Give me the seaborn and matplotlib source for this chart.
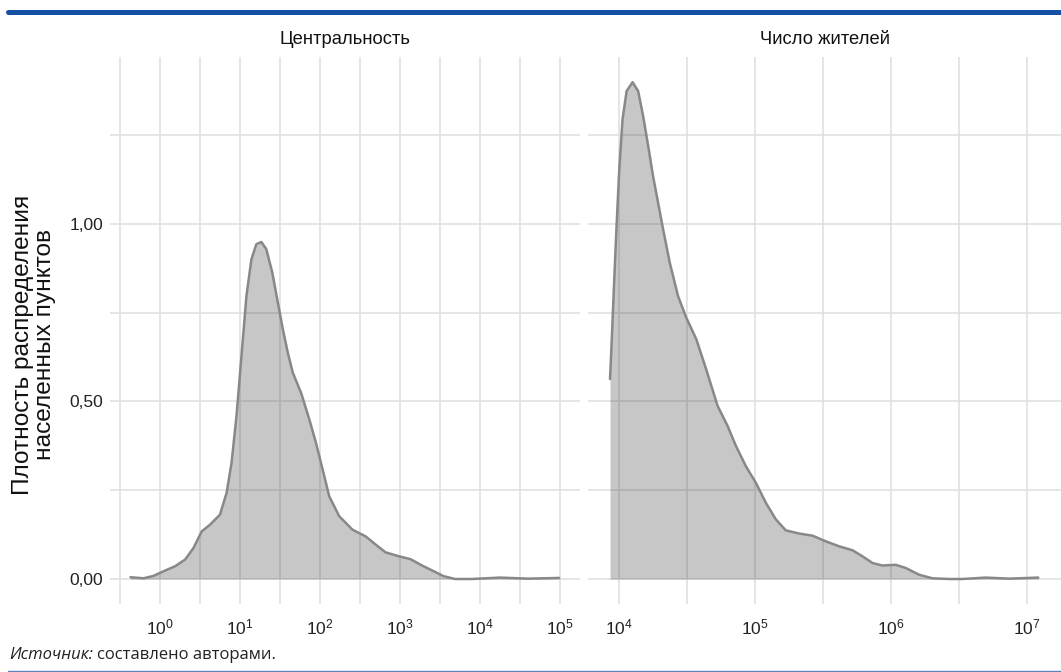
import numpy as np
import pandas as pd
import seaborn as sns
import matplotlib.pyplot as plt
from matplotlib.ticker import FixedLocator

# density curves: x is log10 of the value
cent_log = [-0.364, -0.199, -0.074, 0.05, 0.194, 0.319, 0.422, 0.525, 0.629, 0.753,
            0.836, 0.898, 0.96, 1.022, 1.084, 1.146, 1.208, 1.27, 1.332, 1.407,
            1.477, 1.539, 1.601, 1.663, 1.767, 1.87, 1.953, 2.036, 2.118, 2.242,
            2.408, 2.573, 2.698, 2.822, 2.987, 3.132, 3.277, 3.422, 3.546, 3.69,
            3.9, 4.25, 4.6, 4.99]
cent_dens = [0.005, 0.002, 0.009, 0.022, 0.036, 0.055, 0.087, 0.134, 0.153, 0.181,
             0.242, 0.327, 0.459, 0.628, 0.797, 0.90, 0.943, 0.949, 0.929, 0.863,
             0.778, 0.703, 0.637, 0.581, 0.524, 0.449, 0.383, 0.308, 0.233, 0.177,
             0.139, 0.12, 0.097, 0.075, 0.064, 0.056, 0.038, 0.022, 0.008, 0.0,
             0.0, 0.004, 0.001, 0.003]

pop_log = [3.932, 3.944, 3.961, 3.980, 4.0, 4.024, 4.054, 4.098, 4.139, 4.176,
           4.213, 4.249, 4.286, 4.323, 4.372, 4.433, 4.494, 4.567, 4.64, 4.723,
           4.797, 4.858, 4.931, 5.005, 5.078, 5.152, 5.225, 5.324, 5.422, 5.52,
           5.618, 5.716, 5.789, 5.863, 5.936, 6.034, 6.108, 6.206, 6.304, 6.426,
           6.525, 6.696, 6.868, 7.083]
pop_dens = [0.563, 0.665, 0.824, 0.993, 1.153, 1.294, 1.374, 1.399, 1.374, 1.303,
            1.219, 1.134, 1.059, 0.984, 0.89, 0.796, 0.735, 0.675, 0.59, 0.488,
            0.431, 0.375, 0.318, 0.271, 0.215, 0.168, 0.137, 0.128, 0.122, 0.106,
            0.092, 0.081, 0.064, 0.045, 0.038, 0.04, 0.031, 0.012, 0.002, 0.0,
            0.0, 0.004, 0.001, 0.004]

panel_titles = ["Центральность", "Число жителей"]
x_decades = [[0, 1, 2, 3, 4, 5], [4, 5, 6, 7]]
x_limits = [(-0.62, 5.25), (3.77, 7.25)]
y_ticks = [0, 0.5, 1.0]
y_labels = ["0,00", "0,50", "1,00"]

sns.set_theme(style="white")
plt.rcParams["font.family"] = ["Liberation Sans", "DejaVu Sans"]
plt.rcParams["mathtext.default"] = "regular"

fig = plt.figure(figsize=(10.61, 6.72), dpi=100)
ax1 = fig.add_axes([110 / 1061, 68 / 672, 470 / 1061, 547 / 672])
ax2 = fig.add_axes([588 / 1061, 68 / 672, 473 / 1061, 547 / 672])

grid_col = "#e0e0e0"
curves = [(cent_log, cent_dens), (pop_log, pop_dens)]

for i, ax in enumerate([ax1, ax2]):
    lg, dens = curves[i]
    df = pd.DataFrame({"x": 10 ** np.array(lg), "dens": dens})
    ax.fill_between(df["x"], df["dens"], 0, color="#333333", alpha=0.27,
                    lw=0, zorder=2)
    sns.lineplot(data=df, x="x", y="dens", ax=ax, color="#888888", lw=1.8,
                 sort=False, estimator=None, zorder=3)
    ax.lines[-1].set_solid_joinstyle("round")
    ax.set_xscale("log")
    lo, hi = x_limits[i]
    ax.set_xlim(10 ** lo, 10 ** hi)
    ax.set_ylim(-0.0704, 1.47)

    dec = x_decades[i]
    ax.xaxis.set_major_locator(FixedLocator([10.0 ** k for k in dec]))
    ax.set_xticklabels([f"$10^{{{k}}}$" for k in dec])
    minors = [10 ** (k + 0.5) for k in range(-1, 8) if lo < k + 0.5 < hi]
    ax.xaxis.set_minor_locator(FixedLocator(minors))
    ax.yaxis.set_major_locator(FixedLocator(y_ticks))
    ax.yaxis.set_minor_locator(FixedLocator([0.25, 0.75, 1.25]))
    ax.set_yticklabels(y_labels)

    ax.grid(True, which="both", color=grid_col, lw=1.2, zorder=0)
    ax.set_axisbelow(True)
    for s in ax.spines.values():
        s.set_visible(False)
    ax.tick_params(which="both", length=0, labelsize=12.5, colors="#222222")
    ax.tick_params(axis="x", pad=10)
    ax.tick_params(axis="y", pad=5)
    ax.set_xlabel("")
    ax.set_ylabel("")
    ax.set_title(panel_titles[i], fontsize=13.2, color="#111111", pad=9)

ax2.tick_params(axis="y", labelleft=False)

fig.text(34 / 1061, 1 - 345 / 672,
         "Плотность распределения\nнаселенных пунктов",
         rotation=90, ha="center", va="center", fontsize=17.6,
         linespacing=0.95, color="#111111")

# top blue rule and bottom thin rule
fig.add_artist(plt.Line2D([8 / 1061, 1], [1 - 11.5 / 672] * 2,
                          color="#1450a3", lw=3.6))
fig.add_artist(plt.Line2D([8 / 1061, 1], [1 - 670.5 / 672] * 2,
                          color="#5b82bb", lw=1.0))

src_font = ["Open Sans", "DejaVu Sans"]
t1 = fig.text(9 / 1061, 1 - 655 / 672, "Источник:", fontsize=12,
              family=src_font, style="italic",
              ha="left", va="center", color="#222222")
r = fig.canvas.get_renderer()
bb = t1.get_window_extent(renderer=r)
fig.text((bb.x1 + 4) / 1061, 1 - 655 / 672, "составлено авторами.", fontsize=12,
         family=src_font, ha="left", va="center", color="#222222")

fig.savefig("out.png", dpi=100)
